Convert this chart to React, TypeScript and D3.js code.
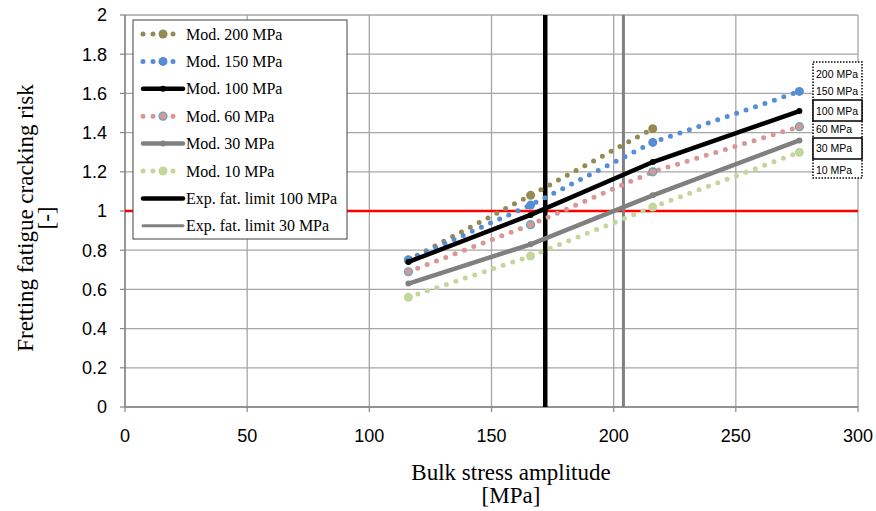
import React from 'react';
import * as d3 from 'd3';

const W = 876;
const H = 511;

// data
const stressX = [116, 166, 216, 276];
const mod200 = [0.75, 1.08, 1.42];
const mod150 = [0.75, 1.03, 1.35, 1.61];
const mod100 = [0.74, 0.98, 1.25, 1.51];
const mod60 = [0.69, 0.93, 1.2, 1.43];
const mod30 = [0.63, 0.83, 1.08, 1.36];
const mod10 = [0.56, 0.77, 1.02, 1.3];
const expLimit100 = 172;
const expLimit30 = 204;
const riskLimit = 1;

const xTicks = [0, 50, 100, 150, 200, 250, 300];
const yTicks = [0, 0.2, 0.4, 0.6, 0.8, 1, 1.2, 1.4, 1.6, 1.8, 2];
const sideLabels = ['200 MPa', '150 MPa', '100 MPa', '60 MPa', '30 MPa', '10 MPa'];
const sideLabelY = [74, 91, 111, 129, 148, 170];

type Series = {
  name: string;
  values: number[];
  color: string;
  dotted: boolean;
  width: number;
  r: number;
  ring?: string;
};

const series: Series[] = [
  { name: 'Mod. 200 MPa', values: mod200, color: '#948a54', dotted: true, width: 5, r: 4.5 },
  { name: 'Mod. 150 MPa', values: mod150, color: '#558ed5', dotted: true, width: 5, r: 4.5 },
  { name: 'Mod. 100 MPa', values: mod100, color: '#000000', dotted: false, width: 4.5, r: 3 },
  { name: 'Mod. 60 MPa', values: mod60, color: '#d99694', dotted: true, width: 5, r: 4, ring: '#4bacc6' },
  { name: 'Mod. 30 MPa', values: mod30, color: '#808080', dotted: false, width: 4.5, r: 3 },
  { name: 'Mod. 10 MPa', values: mod10, color: '#c3d69b', dotted: true, width: 5, r: 4.5 },
];

const margin = { top: 15, right: 18, bottom: 104, left: 125 };

export default function App() {
  const x = d3.scaleLinear().domain([0, 300]).range([margin.left, W - margin.right]);
  const y = d3.scaleLinear().domain([0, 2]).range([H - margin.bottom, margin.top]);

  const line = d3
    .line<[number, number]>()
    .x(d => x(d[0]))
    .y(d => y(d[1]));

  const tickFont = '"Liberation Sans", Arial, sans-serif';
  const serif = '"Liberation Serif", "Times New Roman", serif';

  const legendRows = [
    ...series.map(s => ({ name: s.name, color: s.color, dotted: s.dotted, width: s.width, r: s.r, ring: s.ring, marker: true })),
    { name: 'Exp. fat. limit 100 MPa', color: '#000000', dotted: false, width: 4.5, r: 0, ring: undefined, marker: false },
    { name: 'Exp. fat. limit 30 MPa', color: '#808080', dotted: false, width: 3, r: 0, ring: undefined, marker: false },
  ];

  const lgX = 133;
  const lgY = 20;
  const rowH = 27.4;

  return (
    <svg width={W} height={H} style={{ position: 'absolute', left: 0, top: 0, background: '#fff' }}>
      {/* grid */}
      {yTicks.map(t => (
        <line key={'gy' + t} x1={x(0)} x2={x(300)} y1={y(t)} y2={y(t)} stroke="#a6a6a6" strokeWidth={1.3} />
      ))}
      {xTicks.map(t => (
        <line key={'gx' + t} x1={x(t)} x2={x(t)} y1={y(0)} y2={y(2)} stroke="#a6a6a6" strokeWidth={1.3} />
      ))}
      {/* axes */}
      <line x1={x(0)} x2={x(0)} y1={y(0)} y2={y(2)} stroke="#868686" strokeWidth={1.5} />
      <line x1={x(0)} x2={x(300)} y1={y(0)} y2={y(0)} stroke="#868686" strokeWidth={1.5} />
      {yTicks.map(t => (
        <g key={'ty' + t}>
          <line x1={x(0) - 5} x2={x(0)} y1={y(t)} y2={y(t)} stroke="#868686" strokeWidth={1.2} />
          <text x={x(0) - 18} y={y(t)} dy="0.36em" textAnchor="end" fontFamily={tickFont} fontSize={18} fill="#000">
            {d3.format('~g')(t)}
          </text>
        </g>
      ))}
      {xTicks.map(t => (
        <g key={'tx' + t}>
          <line x1={x(t)} x2={x(t)} y1={y(0)} y2={y(0) + 5} stroke="#868686" strokeWidth={1.2} />
          <text x={x(t)} y={y(0) + 35} textAnchor="middle" fontFamily={tickFont} fontSize={18} fill="#000">
            {t}
          </text>
        </g>
      ))}

      {/* reference lines */}
      <line x1={x(0)} x2={x(300)} y1={y(riskLimit)} y2={y(riskLimit)} stroke="#ff0000" strokeWidth={2.5} />
      <line x1={x(expLimit100)} x2={x(expLimit100)} y1={y(0)} y2={y(2)} stroke="#000" strokeWidth={4.5} />
      <line x1={x(expLimit30)} x2={x(expLimit30)} y1={y(0)} y2={y(2)} stroke="#808080" strokeWidth={3} />

      {/* series */}
      {series.map(s => {
        const pts = s.values.map((v, i) => [stressX[i], v] as [number, number]);
        return (
          <g key={s.name}>
            <path
              d={line(pts) || ''}
              fill="none"
              stroke={s.color}
              strokeWidth={s.width}
              strokeLinecap="round"
              strokeDasharray={s.dotted ? '0 10' : undefined}
            />
            {pts.map((p, i) => (
              <circle
                key={i}
                cx={x(p[0])}
                cy={y(p[1])}
                r={s.r}
                fill={s.color}
                stroke={s.ring || 'none'}
                strokeWidth={s.ring ? 1.2 : 0}
              />
            ))}
          </g>
        );
      })}

      {/* legend */}
      <rect x={lgX} y={lgY} width={214} height={219} fill="#fff" stroke="#404040" strokeWidth={1} />
      {legendRows.map((r, i) => {
        const cy = lgY + 14 + i * rowH;
        return (
          <g key={r.name}>
            <line
              x1={lgX + 10}
              x2={lgX + 50}
              y1={cy}
              y2={cy}
              stroke={r.color}
              strokeWidth={r.width}
              strokeLinecap="round"
              strokeDasharray={r.dotted ? '0 10' : undefined}
            />
            {r.marker && (
              <circle
                cx={lgX + 30}
                cy={cy}
                r={r.r}
                fill={r.color}
                stroke={r.ring || 'none'}
                strokeWidth={r.ring ? 1.2 : 0}
              />
            )}
            <text x={lgX + 53} y={cy} dy="0.35em" fontFamily={serif} fontSize={16} fill="#000">
              {r.name}
            </text>
          </g>
        );
      })}

      {/* side labels */}
      <rect x={813} y={62} width={49} height={116} fill="#fff" stroke="#000" strokeWidth={1.5} strokeDasharray="1.5 1.5" />
      <rect x={813} y={100} width={49} height={21} fill="#fff" stroke="#000" strokeWidth={1.5} />
      <rect x={813} y={138} width={49} height={21} fill="#fff" stroke="#000" strokeWidth={1.5} />
      {sideLabels.map((l, i) => (
        <text key={l} x={816} y={sideLabelY[i]} dy="0.35em" fontFamily={tickFont} fontSize={10.5} fill="#000">
          {l}
        </text>
      ))}

      {/* axis titles */}
      <text x={511} y={480} textAnchor="middle" fontFamily={serif} fontSize={23}>
        Bulk stress amplitude
      </text>
      <text x={511} y={503} textAnchor="middle" fontFamily={serif} fontSize={23}>
        [MPa]
      </text>
      <g transform="translate(33,218) rotate(-90)">
        <text x={0} y={0} textAnchor="middle" fontFamily={serif} fontSize={23}>
          Fretting fatigue cracking risk
        </text>
        <text x={0} y={21} textAnchor="middle" fontFamily={serif} fontSize={23}>
          [-]
        </text>
      </g>
    </svg>
  );
}
